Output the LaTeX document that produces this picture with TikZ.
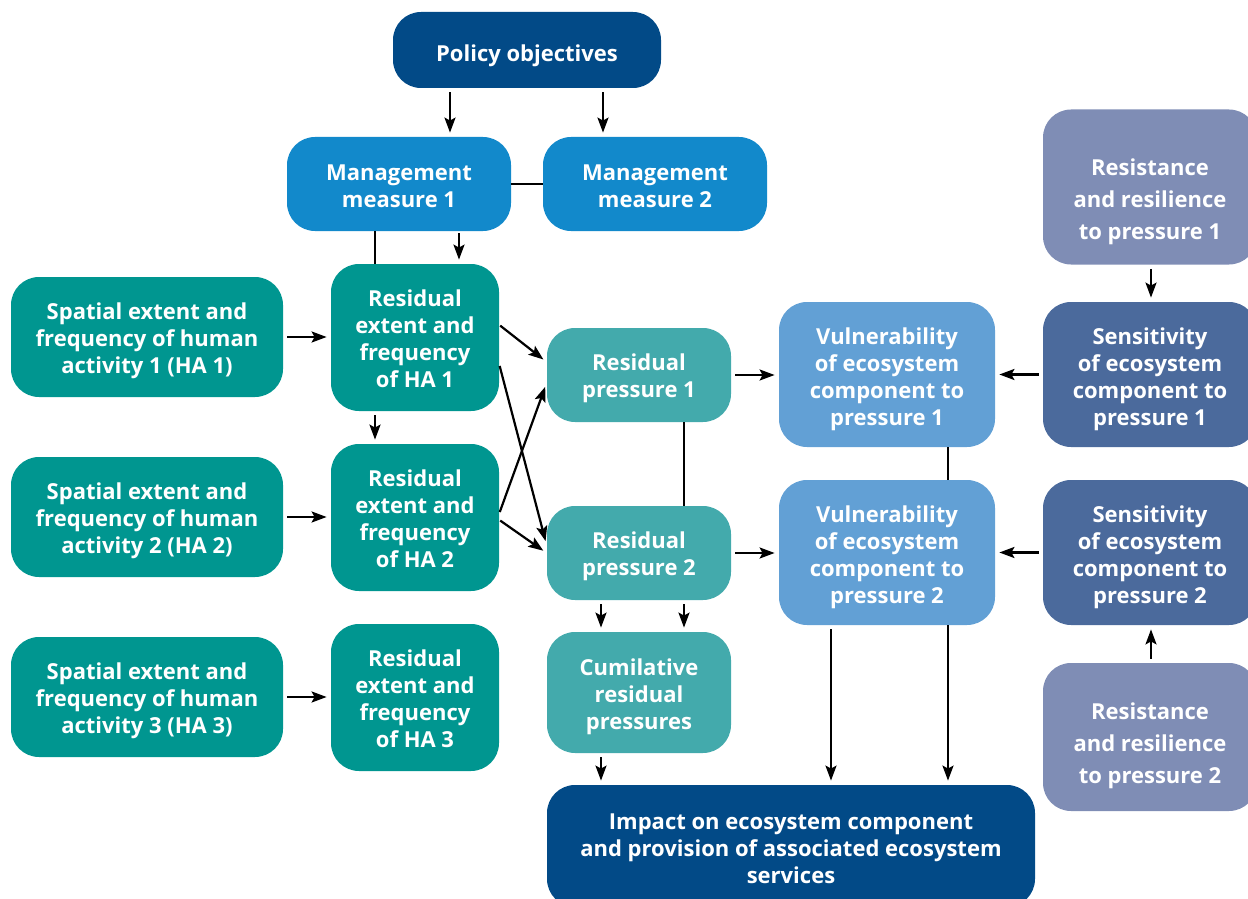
\documentclass[tikz,border=0pt]{standalone}
\usepackage{fontspec}
\setmainfont{Open Sans}
\usetikzlibrary{arrows.meta}
\definecolor{polblue}{RGB}{2,74,135}
\definecolor{mgmtblue}{RGB}{18,137,203}
\definecolor{hateal}{RGB}{0,150,144}
\definecolor{prteal}{RGB}{67,170,172}
\definecolor{vulblue}{RGB}{98,160,213}
\definecolor{sensblue}{RGB}{75,106,156}
\definecolor{resgrey}{RGB}{127,141,181}
% strut that pushes the first line of a box down
\newcommand\boxdrop[1]{\rule{0pt}{#1}}
\tikzset{
  box/.style={rectangle,rounded corners=14pt,text=white,align=center,inner sep=2pt,
    font=\bfseries\fontsize{11}{13.5}\selectfont},
  widebox/.style={box,font=\bfseries\fontsize{11}{16}\selectfont},
  arr/.style={-{Stealth[length=7.5pt,width=5.5pt,inset=1.5pt]},line width=1.1pt,
    shorten <=2pt,shorten >=2pt},
  link/.style={line width=1.1pt}
}
\begin{document}
\begin{tikzpicture}[x=0.5pt,y=-0.5pt]
\useasboundingbox (0,0) rectangle (1248,899);
\node[box,fill=polblue,minimum width=134pt,minimum height=38pt] (pol) at (527,50) {\boxdrop{14pt}Policy objectives};
\node[box,fill=mgmtblue,minimum width=112pt,minimum height=47pt] (mm1) at (399,184) {\boxdrop{10.4pt}Management\\measure 1};
\node[box,fill=mgmtblue,minimum width=112pt,minimum height=47pt] (mm2) at (655,184) {\boxdrop{10.4pt}Management\\measure 2};
\node[widebox,fill=resgrey,minimum width=107pt,minimum height=77.5pt] (rr1) at (1150,187) {\boxdrop{23.4pt}Resistance\\and resilience\\to pressure 1};
\node[box,fill=hateal,minimum width=136pt,minimum height=60pt] (ha1) at (147,337) {\boxdrop{12.4pt}Spatial extent and\\frequency of human\\activity 1 (HA 1)};
\node[box,fill=hateal,minimum width=136pt,minimum height=60pt] (ha2) at (147,517) {\boxdrop{12.4pt}Spatial extent and\\frequency of human\\activity 2 (HA 2)};
\node[box,fill=hateal,minimum width=136pt,minimum height=60pt] (ha3) at (147,697) {\boxdrop{12.4pt}Spatial extent and\\frequency of human\\activity 3 (HA 3)};
\node[box,fill=hateal,minimum width=84pt,minimum height=73.5pt] (re1) at (415,337.5) {\boxdrop{9.4pt}Residual\\extent and\\frequency\\of HA 1};
\node[box,fill=hateal,minimum width=84pt,minimum height=73.5pt] (re2) at (415,517.5) {\boxdrop{9.4pt}Residual\\extent and\\frequency\\of HA 2};
\node[box,fill=hateal,minimum width=84pt,minimum height=73.5pt] (re3) at (415,697.5) {\boxdrop{9.4pt}Residual\\extent and\\frequency\\of HA 3};
\node[box,fill=prteal,minimum width=92pt,minimum height=47pt] (rp1) at (639,375) {\boxdrop{11.4pt}Residual\\pressure 1};
\node[box,fill=prteal,minimum width=92pt,minimum height=47pt] (rp2) at (639,553) {\boxdrop{11.4pt}Residual\\pressure 2};
\node[box,fill=prteal,minimum width=92pt,minimum height=60.5pt] (cum) at (639,692.5) {\boxdrop{12.4pt}Cumilative\\residual\\pressures};
\node[box,fill=vulblue,minimum width=108pt,minimum height=72.5pt] (vu1) at (887,374.5) {\boxdrop{13.4pt}Vulnerability\\of ecosystem\\component to\\pressure 1};
\node[box,fill=vulblue,minimum width=108pt,minimum height=72.5pt] (vu2) at (887,552.5) {\boxdrop{13.4pt}Vulnerability\\of ecosystem\\component to\\pressure 2};
\node[box,fill=sensblue,minimum width=107pt,minimum height=72.5pt] (se1) at (1150,374.5) {\boxdrop{13.4pt}Sensitivity\\of ecosystem\\component to\\pressure 1};
\node[box,fill=sensblue,minimum width=107pt,minimum height=72.5pt] (se2) at (1150,552.5) {\boxdrop{13.4pt}Sensitivity\\of ecosystem\\component to\\pressure 2};
\node[widebox,fill=resgrey,minimum width=107pt,minimum height=74pt] (rr2) at (1150,737) {\boxdrop{17.4pt}Resistance\\and resilience\\to pressure 2};
\node[box,fill=polblue,minimum width=244pt,minimum height=61pt] (imp) at (791,846) {\boxdrop{10.4pt}Impact on ecosystem component\\and provision of associated ecosystem\\services};
% policy and management
\draw[arr] (pol.south -| 450,0) -- (mm1.north -| 450,0);
\draw[arr] (pol.south -| 603,0) -- (mm2.north -| 603,0);
\draw[link] (mm1.east) -- (mm2.west);
\draw[link] (mm1.south -| 375,0) -- (re1.north -| 375,0);
\draw[arr,shorten <=1pt] (mm1.south -| 459,0) -- (re1.north -| 459,0);
% human activities
\draw[arr] (ha1.east) -- (re1.west |- ha1.east);
\draw[arr] (ha2.east) -- (re2.west |- ha2.east);
\draw[arr] (ha3.east) -- (re3.west |- ha3.east);
\draw[arr] (re1.south -| 375,0) -- (re2.north -| 375,0);
% residual pressures
\draw[arr,shorten <=0.5pt] (re1.east |- 0,325) -- (rp1.west |- 0,362);
\draw[arr,shorten <=0.5pt] (re1.east |- 0,365) -- (rp2.west |- 0,545);
\draw[arr,shorten <=0.5pt] (re2.east |- 0,513) -- (rp1.west |- 0,383);
\draw[arr,shorten <=0.5pt] (re2.east |- 0,520) -- (rp2.west |- 0,553);
\draw[link] (rp1.south -| 684,0) -- (rp2.north -| 684,0);
\draw[arr] (rp2.south -| 601,0) -- (cum.north -| 601,0);
\draw[arr] (rp2.south -| 684,0) -- (cum.north -| 684,0);
\draw[arr] (cum.south -| 601,0) -- (imp.north -| 601,0);
% vulnerability
\draw[arr] (rp1.east) -- (vu1.west |- rp1.east);
\draw[arr] (rp2.east) -- (vu2.west |- rp2.east);
\draw[arr] (se1.west) -- (vu1.east |- se1.west);
\draw[arr] (se2.west) -- (vu2.east |- se2.west);
\draw[arr] (rr1.south -| 1151,0) -- (se1.north -| 1151,0);
\draw[arr] (rr2.north -| 1151,0) -- (se2.south -| 1151,0);
\draw[link] (vu1.south -| 948,0) -- (vu2.north -| 948,0);
\draw[arr,shorten <=0pt] (vu2.south -| 948,0) -- (imp.north -| 948,0);
\draw[arr] (vu2.south -| 831,0) -- (imp.north -| 831,0);
\end{tikzpicture}
\end{document}
